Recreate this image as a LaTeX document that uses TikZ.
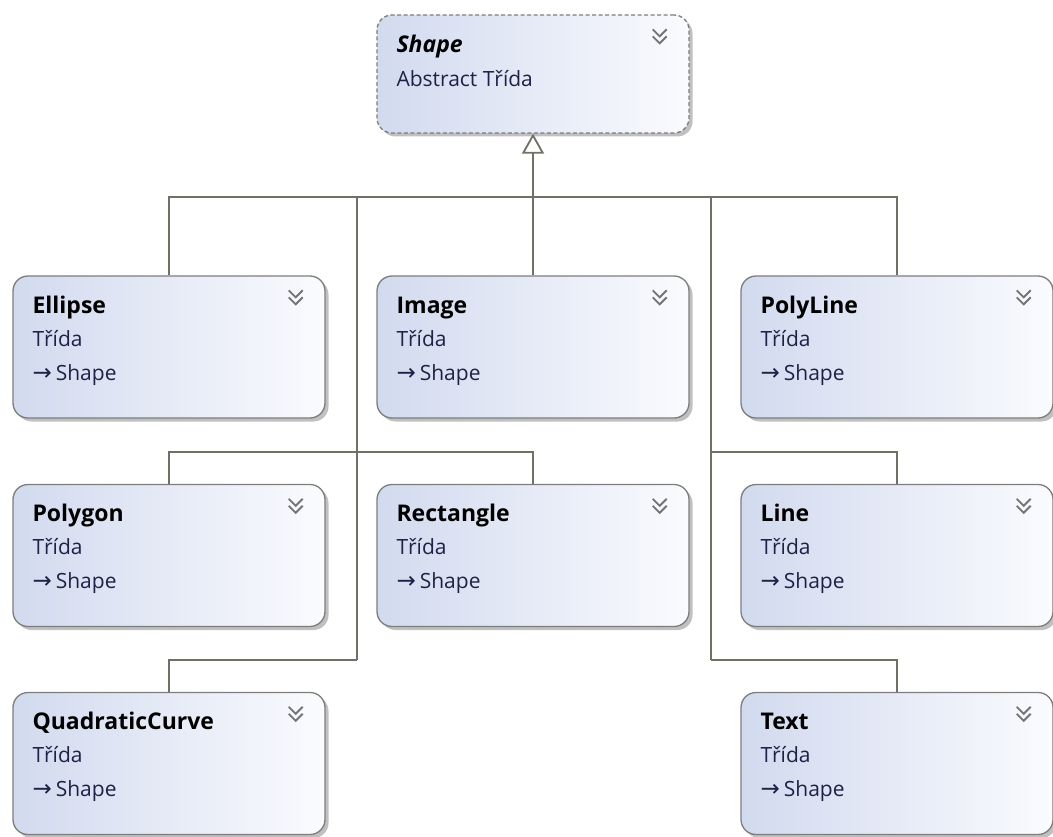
\documentclass[tikz,border=0pt]{standalone}
\usepackage{fontspec}
\setmainfont{Open Sans}
\newfontfamily\arrowfont{DejaVu Sans}
\usetikzlibrary{arrows.meta,shadows,positioning}

\definecolor{boxleft}{RGB}{210,218,239}
\definecolor{boxright}{RGB}{250,251,254}
\definecolor{boxgray}{RGB}{125,125,125}
\definecolor{wiregray}{RGB}{112,112,102}
\definecolor{kindtext}{RGB}{30,34,70}

\tikzset{
  classbox/.style={rectangle, rounded corners=15pt, draw=boxgray, line width=1.3pt,
    minimum width=312pt, minimum height=142pt, inner sep=0pt,
    left color=boxleft, right color=boxright,
    drop shadow={shadow xshift=3.5pt, shadow yshift=-3.5pt, fill=black!45, opacity=0.55}},
  abstractbox/.style={classbox, dashed, dash pattern=on 4pt off 2.5pt, minimum height=118pt},
  classtitle/.style={anchor=base west, inner sep=0pt, font=\fontsize{23}{27}\selectfont\bfseries},
  classkind/.style={anchor=base west, inner sep=0pt, text=kindtext, font=\fontsize{21}{25}\selectfont},
  chev/.style={draw=gray!90!black, line width=1.8pt},
  wire/.style={draw=wiregray, line width=1.8pt},
  gen/.style={wire, -{Triangle[open, length=20pt, width=22pt, line width=1.8pt]}}
}

% box, title, kind lines and chevron of one class
\newcommand{\umlclass}[4]{%
  \node[classbox] (#1) at #2 {};
  \node[classtitle] (#1-title) at ([shift={(20,38)}]#1.north west) {#3};
  \node[classkind] (#1-kind) at ([shift={(20,71)}]#1.north west) {Třída};
  \node[classkind] (#1-base) at ([shift={(20,105)}]#1.north west) {{\arrowfont\fontsize{23}{25}\selectfont →}\hspace{4pt}#4};
  \draw[chev] ([shift={(-37,15)}]#1.north east) -- ++(7,7) -- ++(7,-7);
  \draw[chev] ([shift={(-37,22)}]#1.north east) -- ++(7,7) -- ++(7,-7);
}

\begin{document}
\begin{tikzpicture}[x=1pt, y=-1pt]
\useasboundingbox (0,0) rectangle (1053,837);

% abstract base class
\node[abstractbox] (shape) at (533,74) {};
\node[classtitle, font=\fontsize{23}{27}\selectfont\bfseries\itshape] (shape-title) at ([shift={(20,38)}]shape.north west) {Shape};
\node[classkind] (shape-kind) at ([shift={(20,72)}]shape.north west) {Abstract Třída};
\draw[chev] ([shift={(-37,15)}]shape.north east) -- ++(7,7) -- ++(7,-7);
\draw[chev] ([shift={(-37,22)}]shape.north east) -- ++(7,7) -- ++(7,-7);

% derived classes
\umlclass{ellipse}{(169,347)}{Ellipse}{Shape}
\umlclass{image}{(533,347)}{Image}{Shape}
\umlclass{polyline}{(897,347)}{PolyLine}{Shape}
\umlclass{polygon}{(169,555.5)}{Polygon}{Shape}
\umlclass{rectangle}{(533,555.5)}{Rectangle}{Shape}
\umlclass{line}{(897,555.5)}{Line}{Shape}
\umlclass{quadcurve}{(169,763.5)}{QuadraticCurve}{Shape}
\umlclass{text}{(897,763.5)}{Text}{Shape}

% inheritance tree
\coordinate (hub) at (533,197);
\coordinate (trunkL) at (357,197);
\coordinate (trunkR) at (711,197);
\coordinate (midL) at (357,452);
\coordinate (midR) at (711,452);
\coordinate (lowL) at (357,660);
\coordinate (lowR) at (711,660);

\draw[wire] (ellipse.north) |- (hub);
\draw[wire] (polyline.north) |- (hub);
\draw[wire] (trunkL) -- (lowL);
\draw[wire] (trunkR) -- (lowR);
\draw[wire] (polygon.north) |- (midL) -| (rectangle.north);
\draw[wire] (line.north) |- (midR);
\draw[wire] (quadcurve.north) |- (lowL);
\draw[wire] (text.north) |- (lowR);
\draw[gen] (image.north) -- (shape.south);

\end{tikzpicture}
\end{document}
